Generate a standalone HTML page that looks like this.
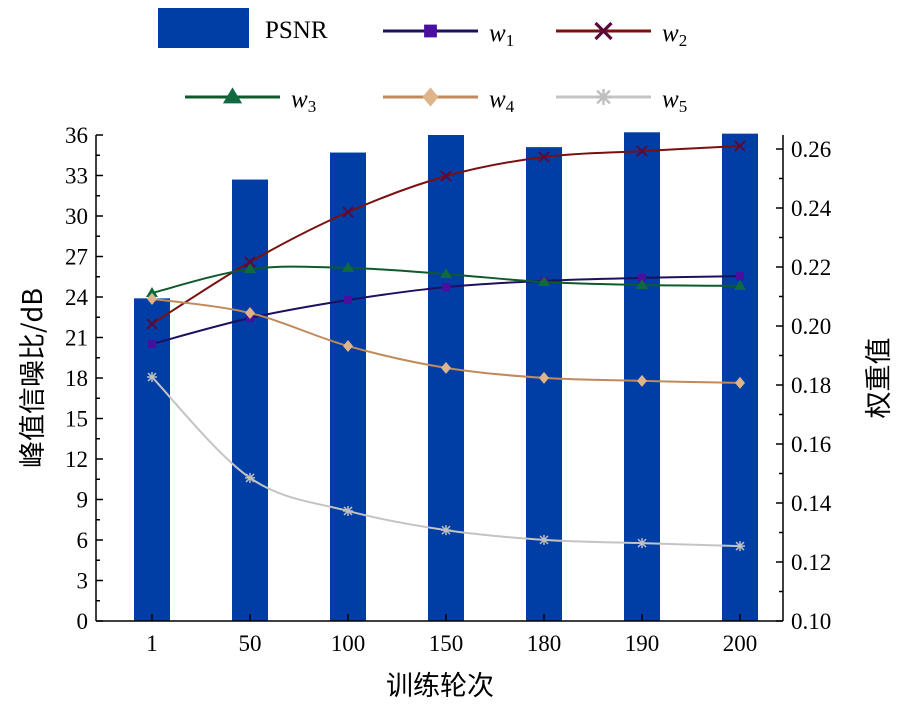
<!DOCTYPE html>
<html><head><meta charset="utf-8"><style>
body{margin:0;background:#fff}
svg{font-family:"Liberation Serif","Noto Serif CJK SC",serif}
</style></head><body>
<svg id="c" width="914" height="708" xmlns="http://www.w3.org/2000/svg"></svg>
<script>
const categories=["1","50","100","150","180","190","200"];
const psnr=[23.9,32.7,34.7,36.0,35.1,36.2,36.1];
const w1=[0.1939,0.2027,0.2088,0.2132,0.2153,0.2163,0.2169];
const w2=[0.2007,0.2217,0.2386,0.2508,0.2573,0.2593,0.2610];
const w3=[0.2112,0.2193,0.2197,0.2176,0.2149,0.2139,0.2136];
const w4=[0.2092,0.2044,0.1932,0.1858,0.1824,0.1814,0.1807];
const w5=[0.1827,0.1485,0.1373,0.1308,0.1275,0.1264,0.1254];
const leftTicks=[0,3,6,9,12,15,18,21,24,27,30,33,36];
const rightTicks=["0.10","0.12","0.14","0.16","0.18","0.20","0.22","0.24","0.26"];

const svg=document.getElementById('c');const NS="http://www.w3.org/2000/svg";
function mk(t,a,p){const e=document.createElementNS(NS,t);for(const k in a)e.setAttribute(k,a[k]);(p||svg).appendChild(e);return e;}
const L=96,R=783,T=135,B=621;
const xOf=i=>152+i*98.0;
const yL=v=>B-v*(B-T)/36;
const yR=v=>B-(v-0.10)/0.02*59;

// bars
psnr.forEach((v,i)=>{const r=mk('rect',{x:xOf(i)-18,y:yL(v),width:36,height:B-yL(v),fill:'#003da5'});

});

// axes
const ax=mk('g',{stroke:'#000','stroke-width':1.5,fill:'none'});

mk('line',{x1:L,y1:T,x2:L,y2:B},ax);mk('line',{x1:R,y1:T,x2:R,y2:B},ax);mk('line',{x1:L,y1:B,x2:R,y2:B},ax);
leftTicks.forEach(v=>{mk('line',{x1:L,y1:yL(v),x2:L+7,y2:yL(v)},ax);
 const t=mk('text',{x:L-8,y:yL(v)+8,'text-anchor':'end','font-size':23});t.textContent=v;
 
 if(v<36)mk('line',{x1:L,y1:yL(v+1.5),x2:L+4,y2:yL(v+1.5)},ax);});
rightTicks.forEach(s=>{const v=parseFloat(s);mk('line',{x1:R,y1:yR(v),x2:R-7,y2:yR(v)},ax);
 if(v<0.26)mk('line',{x1:R,y1:yR(v+0.01),x2:R-4,y2:yR(v+0.01)},ax);
 const t=mk('text',{x:R+8,y:yR(v)+8,'font-size':23});t.textContent=s;
 });
categories.forEach((c,i)=>{mk('line',{x1:xOf(i),y1:B,x2:xOf(i),y2:B-7},ax);
 const t=mk('text',{x:xOf(i),y:B+30,'text-anchor':'middle','font-size':23});t.textContent=c;
 });

let t=mk('text',{x:440,y:695,'text-anchor':'middle','font-size':27,'font-family':'"Noto Sans CJK SC",sans-serif'});t.textContent='训练轮次';

t=mk('text',{x:0,y:0,'text-anchor':'middle','font-size':27,transform:'translate(42,378) rotate(-90)','font-family':'"Noto Sans CJK SC",sans-serif'});t.textContent='峰值信噪比/dB';

t=mk('text',{x:0,y:0,'text-anchor':'middle','font-size':27,transform:'translate(888,378) rotate(-90)','font-family':'"Noto Sans CJK SC",sans-serif'});t.textContent='权重值';


function marker(kind,x,y,col,fill,g){
 if(kind==='sq')mk('rect',{x:x-4,y:y-4,width:8,height:8,fill:fill},g);
 else if(kind==='x'){mk('path',{d:`M${x-5} ${y-5}L${x+5} ${y+5}M${x-5} ${y+5}L${x+5} ${y-5}`,stroke:fill,'stroke-width':2},g);}
 else if(kind==='tri')mk('path',{d:`M${x} ${y-6}L${x+6} ${y+4}L${x-6} ${y+4}Z`,fill:fill},g);
 else if(kind==='dia')mk('path',{d:`M${x} ${y-6}L${x+5} ${y}L${x} ${y+6}L${x-5} ${y}Z`,fill:fill},g);
 else {mk('path',{d:`M${x-5} ${y}L${x+5} ${y}M${x} ${y-5}L${x} ${y+5}M${x-4} ${y-4}L${x+4} ${y+4}M${x-4} ${y+4}L${x+4} ${y-4}`,stroke:fill,'stroke-width':1.5},g);}
}
function smooth(pts){let d=`M${pts[0][0]} ${pts[0][1]}`;
 for(let i=0;i<pts.length-1;i++){const p0=pts[i-1]||pts[i],p1=pts[i],p2=pts[i+1],p3=pts[i+2]||p2;
 d+=`C${p1[0]+(p2[0]-p0[0])/6} ${p1[1]+(p2[1]-p0[1])/6} ${p2[0]-(p3[0]-p1[0])/6} ${p2[1]-(p3[1]-p1[1])/6} ${p2[0]} ${p2[1]}`;}return d;}
const series=[[w1,'w1','#1e1060','#4b0fa0','sq'],[w2,'w2','#7a1010','#5a0a3a','x'],[w3,'w3','#0f5a2a','#0f6a40','tri'],[w4,'w4','#c08a5a','#dfb48a','dia'],[w5,'w5','#c4c4c4','#bfbfbf','ast']];
series.forEach(([vals,n,col,mf,k])=>{const g=mk('g',{});
 
 const pts=vals.map((v,i)=>[xOf(i),yR(v)]);
 mk('path',{d:smooth(pts),stroke:col,'stroke-width':2,fill:'none'},g);
 pts.forEach(p=>marker(k,p[0],p[1],col,mf,g));});

// legend
const lg=mk('g',{});
mk('rect',{x:158,y:8,width:91,height:40,fill:'#003da5'},lg);
t=mk('text',{x:265,y:38,'font-size':25},lg);t.textContent='PSNR';
const lpos=[[383,31],[556,31],[185,97],[383,97],[556,97]];
series.forEach(([vals,n,col,mf,k],i)=>{const [x,y]=lpos[i];const g=mk('g',{},lg);
 
 mk('line',{x1:x,y1:y,x2:x+95,y2:y,stroke:col,'stroke-width':3},g);
 const sc=mk('g',{transform:`translate(${x+47.5},${y}) scale(1.6) translate(${-x-47.5},${-y})`},g);
 marker(k,x+47.5,y,col,mf,sc);
 const tx=mk('text',{x:x+106,y:y+10,'font-size':25,'font-style':'italic'},g);
 tx.textContent='w';const s=mk('tspan',{'font-size':17,'font-style':'normal',dy:5},tx);s.textContent=n[1];});
</script>
</body></html>
